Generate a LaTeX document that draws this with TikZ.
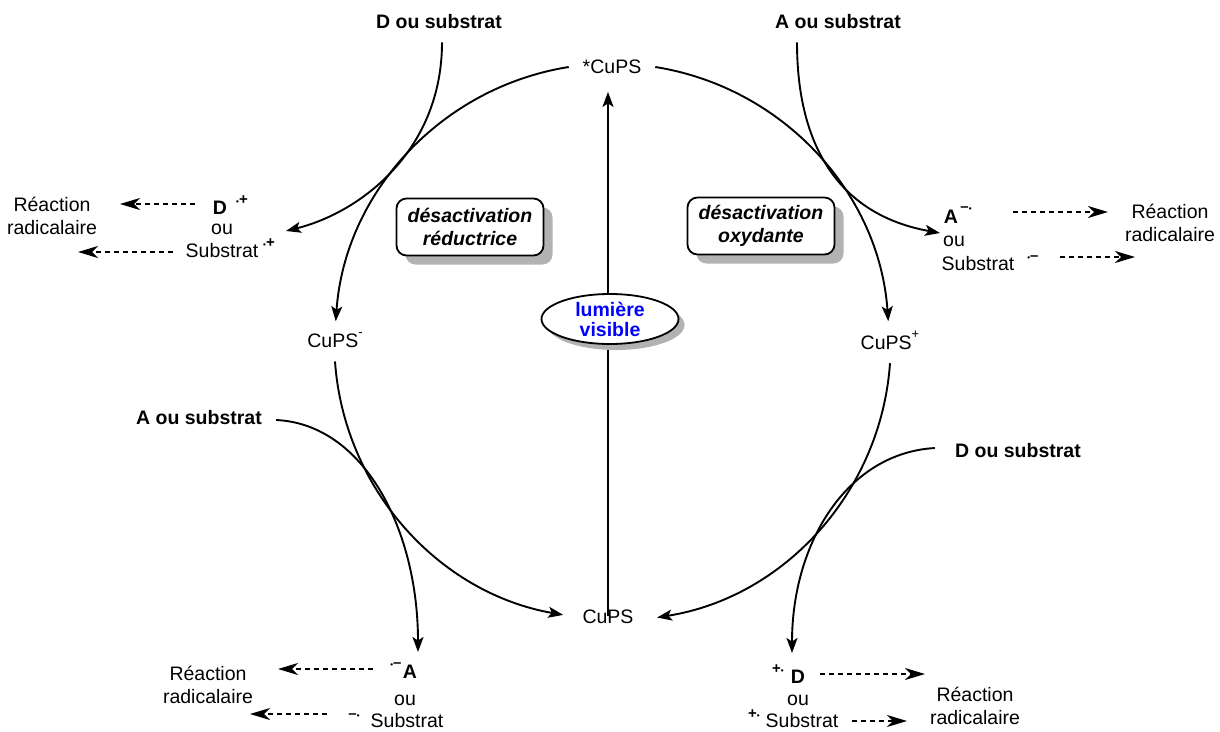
\documentclass[tikz,border=0pt]{standalone}
\usepackage{fontspec}
\setmainfont{Liberation Sans}
\usetikzlibrary{arrows.meta,shapes.geometric,shadows,calc}
\newcommand\rdot{{\fontsize{8}{8}\selectfont\textbullet}}
\newcommand\rmin{\textbf{–}}
\newcommand\rpl{\textbf{+}}
\newcommand\smallsup[1]{\raisebox{.55em}{\fontsize{13}{13}\selectfont #1}}
\tikzset{
  txt/.style={font=\fontsize{19.5}{23}\selectfont, inner sep=0pt, align=center},
  btxt/.style={txt, font=\fontsize{19.5}{23}\selectfont\bfseries},
  cyc/.style={txt, outer sep=14pt},
  supn/.style={font=\fontsize{15}{15}\selectfont\bfseries, inner sep=0pt},
  arr/.style={line width=1.9pt, -{Stealth[length=15pt,width=11pt,inset=3.5pt]}},
  darr/.style={line width=1.6pt, dash pattern=on 5pt off 4pt, -{Stealth[length=20pt,width=12pt,inset=6pt]}},
  deact/.style={draw, line width=1.8pt, rounded corners=10pt, fill=white,
    minimum width=147pt, minimum height=57pt, inner sep=0pt, align=center,
    font=\fontsize{19.5}{23}\selectfont\bfseries\itshape,
    drop shadow={shadow xshift=9pt, shadow yshift=-9pt, fill=black!30, opacity=1}},
}
\begin{document}
\begin{tikzpicture}[x=1pt,y=1pt]
\useasboundingbox (0,0) rectangle (1220,-731);
% cycle nodes
\node[cyc] (top) at (612,-67) {*CuPS};
\node[cyc] (left) at (335,-340) {CuPS\smallsup{-}};
\node[cyc] (right) at (890,-340) {CuPS\smallsup{+}};
\node[cyc] (bot) at (608,-617) {CuPS};
% cycle arcs (circle of radius 277 about the centre of the cycle)
\draw[arr] (top.west) arc[start angle=99, end angle=176, radius=277];
\draw[arr] (left.south) arc[start angle=184, end angle=260, radius=277];
\draw[arr] (right.south) arc[start angle=-4, end angle=-81, radius=277];
\draw[arr] (top.east) arc[start angle=81, end angle=4, radius=277];
% light arrow
\draw[arr] ([yshift=-20pt]bot.north) -- ([yshift=-4pt]bot.north |- top.south);
\node[ellipse, draw, line width=1.8pt, fill=white, minimum width=137pt, minimum height=50pt,
  inner sep=0pt, align=center, text=blue, font=\fontsize{19.5}{20}\selectfont\bfseries,
  drop shadow={shadow xshift=6pt, shadow yshift=-6pt, fill=black!30, opacity=1}] (lum) at (610,-319) {lumière\\visible};
% deactivation boxes
\node[deact] (dred) at (470,-227) {désactivation\\réductrice};
\node[deact] (dox) at (761,-226) {désactivation\\oxydante};
% reagent labels
\node[btxt] (dTL) at (439,-22) {D ou substrat};
\node[btxt] (aTR) at (838,-22) {A ou substrat};
\node[btxt] (aBL) at (199,-418) {A ou substrat};
\node[btxt] (dBR) at (1018,-451) {D ou substrat};
% tips of curved arrows
\coordinate (tipTL) at (286,-231);
\coordinate (tipTR) at (940,-233);
\coordinate (tipBL) at (418,-652);
\coordinate (tipBR) at (792,-653);
\draw[arr] ([xshift=3pt,yshift=-13pt]dTL.south) .. controls +(0,-107) and +(76,19) .. (tipTL);
\draw[arr] ([xshift=-41pt,yshift=-13pt]aTR.south) .. controls +(0,-105) and +(-100,18) .. (tipTR);
\draw[arr] ([xshift=14pt,yshift=-2pt]aBL.east) .. controls +(88,-4) and +(0,122) .. (tipBL);
\draw[arr] ([xshift=-20pt,yshift=3pt]dBR.west) .. controls +(-88,-5) and +(0,110) .. (tipBR);
% top-left products
\node[btxt] (Dtl) at (220,-208) {D};
\node[supn] (Dtls) at (242,-200) {\rdot\rpl};
\node[txt] (outl) at (222,-229) {ou};
\node[txt] (Stl) at (222,-251) {Substrat};
\node[supn] (Stls) at (269,-243) {\rdot\rpl};
\node[txt] (Rtl) at (52,-216) {Réaction\\radicalaire};
% top-right products
\node[btxt] (Atr) at (951,-217) {A};
\node[supn] (Atrs) at (966,-209) {\rmin\rdot};
\node[txt] (outr) at (954,-241) {ou};
\node[txt] (Str) at (978,-264) {Substrat};
\node[supn] (Strs) at (1033,-258) {\rdot\rmin};
\node[txt] (Rtr) at (1170,-223) {Réaction\\radicalaire};
% bottom-left products
\node[supn] (Abls) at (396,-665) {\rdot\rmin};
\node[btxt] (Abl) at (410,-672) {A};
\node[txt] (oubl) at (405,-700) {ou};
\node[supn] (Sbls) at (354,-716) {\rmin\rdot};
\node[txt] (Sbl) at (407,-721) {Substrat};
\node[txt] (Rbl) at (208,-685) {Réaction\\radicalaire};
% bottom-right products
\node[supn] (Dbrs) at (778,-669) {\rpl\rdot};
\node[btxt] (Dbr) at (798,-677) {D};
\node[txt] (oubr) at (798,-700) {ou};
\node[supn] (Sbrs) at (754,-714) {\rpl\rdot};
\node[txt] (Sbr) at (802,-721) {Substrat};
\node[txt] (Rbr) at (975,-706) {Réaction\\radicalaire};
% dashed arrows
\coordinate (tl1a) at (195,-204); \coordinate (tl1b) at (120,-204);
\coordinate (tl2a) at (173,-252); \coordinate (tl2b) at (78,-252);
\coordinate (tr1a) at (1013,-212); \coordinate (tr1b) at (1108,-212);
\coordinate (tr2a) at (1060,-257); \coordinate (tr2b) at (1135,-257);
\coordinate (bl1a) at (373,-669); \coordinate (bl1b) at (278,-669);
\coordinate (bl2a) at (327,-714); \coordinate (bl2b) at (250,-714);
\coordinate (br1a) at (820,-674); \coordinate (br1b) at (925,-674);
\coordinate (br2a) at (852,-721); \coordinate (br2b) at (907,-721);
\draw[darr] (tl1a) -- (tl1b);
\draw[darr] (tl2a) -- (tl2b);
\draw[darr] (tr1a) -- (tr1b);
\draw[darr] (tr2a) -- (tr2b);
\draw[darr] (bl1a) -- (bl1b);
\draw[darr] (bl2a) -- (bl2b);
\draw[darr] (br1a) -- (br1b);
\draw[darr] (br2a) -- (br2b);
\end{tikzpicture}
\end{document}
